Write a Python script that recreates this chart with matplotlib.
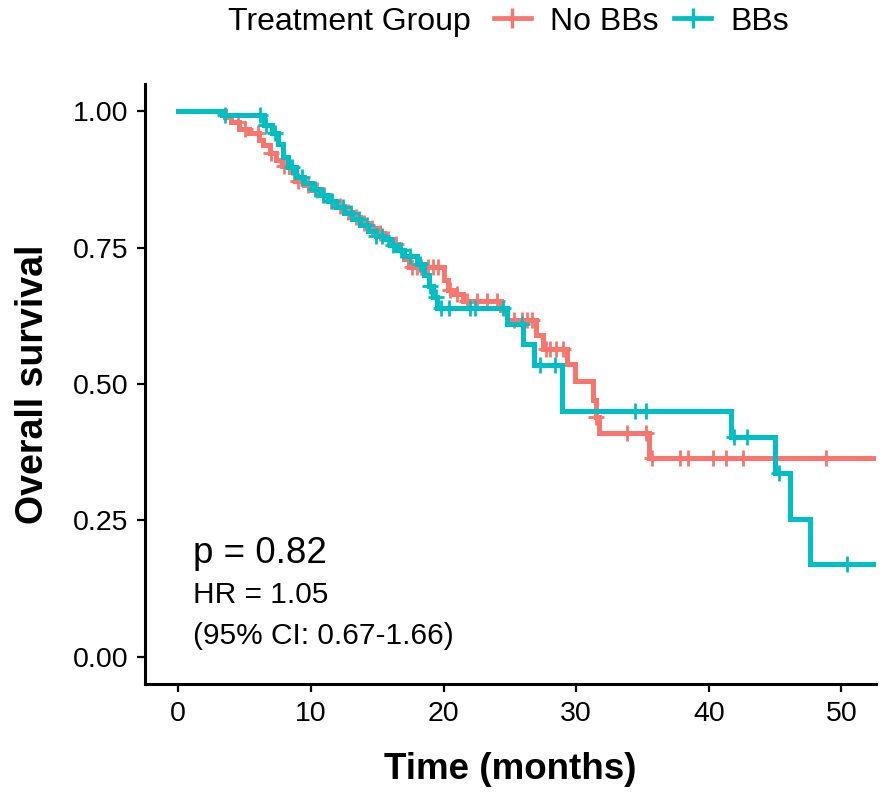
import numpy as np
import matplotlib
matplotlib.use("Agg")
import matplotlib.pyplot as plt
from matplotlib.lines import Line2D

plt.rcParams['font.family'] = ['Liberation Sans', 'DejaVu Sans']

# Kaplan-Meier steps (time in months, survival after step)
nobb_time = [0, 3.5, 4.0, 4.6, 5.3, 6.1, 6.4, 6.9, 7.4, 7.8, 8.4, 8.8, 9.5, 10.1, 10.7,
             11.3, 11.9, 12.5, 13.1, 13.7, 14.3, 14.9, 15.5, 16.1, 16.6, 17.0, 17.4,
             20.0, 20.3, 20.8, 21.5, 24.3, 24.8, 27.0, 27.5, 29.3, 29.9, 31.3, 31.5,
             31.7, 35.5, 55.0]
nobb_surv = [1.0, 0.99, 0.98, 0.968, 0.96, 0.947, 0.938, 0.923, 0.91, 0.90, 0.888, 0.873,
             0.865, 0.856, 0.846, 0.836, 0.826, 0.816, 0.806, 0.796, 0.786, 0.776, 0.766,
             0.756, 0.745, 0.730, 0.714, 0.69, 0.672, 0.665, 0.653, 0.635, 0.617, 0.59,
             0.565, 0.537, 0.506, 0.47, 0.44, 0.41, 0.365, 0.365]
nobb_cens = [4.5, 5.0, 6.0, 7.0, 8.0, 9.0, 9.8, 10.5, 11.0, 11.5, 12.2, 12.8, 13.4, 14.0,
             14.6, 15.2, 15.8, 16.4, 17.6, 18.0, 18.3, 18.8, 19.2, 19.6, 20.5, 21.0, 21.8,
             22.5, 23.3, 24.0, 25.3, 25.9, 26.3, 26.7, 27.7, 28.0, 28.5, 29.0, 31.5, 33.8,
             35.3, 35.7, 37.8, 38.4, 40.3, 41.3, 42.6, 48.8]

bb_time = [0, 3.3, 6.5, 7.1, 7.5, 7.9, 8.3, 8.9, 9.5, 10.1, 10.7, 11.3, 11.9, 12.5, 13.1,
           13.7, 14.3, 14.9, 15.5, 16.0, 16.5, 17.0, 18.0, 18.5, 18.9, 19.2, 19.5, 24.8,
           26.0, 26.8, 28.9, 41.7, 45.0, 46.1, 47.6, 55.0]
bb_surv = [1.0, 0.993, 0.975, 0.96, 0.94, 0.916, 0.897, 0.88, 0.868, 0.858, 0.847, 0.836,
           0.825, 0.814, 0.803, 0.792, 0.781, 0.772, 0.765, 0.755, 0.745, 0.735, 0.72, 0.70,
           0.68, 0.66, 0.64, 0.61, 0.574, 0.534, 0.451, 0.402, 0.336, 0.253, 0.17, 0.17]
bb_cens = [3.5, 6.2, 6.6, 7.3, 8.6, 9.3, 10.3, 10.9, 11.6, 12.4, 13.0, 13.6, 14.2, 14.9,
           15.4, 16.2, 16.8, 17.5, 18.2, 19.0, 19.4, 19.8, 20.4, 22.0, 22.4, 24.5, 25.9,
           27.3, 28.4, 34.4, 35.3, 41.9, 42.9, 45.3, 50.4]

groups = ["No BBs", "BBs"]
colors = ["#F8766D", "#00BFC4"]

p_text = "p = 0.82"
hr_text = "HR = 1.05"
ci_text = "(95% CI: 0.67-1.66)"


def surv_at(times, surv, t):
    idx = np.searchsorted(times, t, side='right') - 1
    return np.asarray(surv)[idx]


fig = plt.figure(figsize=(8.86, 7.99), dpi=100)
ax = fig.add_axes([0.1637, 0.1439, 0.825, 0.751])

for t, s, c, col in [(nobb_time, nobb_surv, nobb_cens, colors[0]),
                     (bb_time, bb_surv, bb_cens, colors[1])]:
    ax.step(t, s, where='post', color=col, lw=3.6, solid_joinstyle='miter')
    ax.plot(c, surv_at(t, s, c), ls='none', marker='+', ms=12, mew=2.0, color=col)

ax.set_xlim(-2.5, 52.6)
ax.set_ylim(-0.05, 1.05)
ax.set_xticks([0, 10, 20, 30, 40, 50])
ax.set_yticks([0, 0.25, 0.5, 0.75, 1.0])
ax.set_yticklabels(["0.00", "0.25", "0.50", "0.75", "1.00"])
ax.tick_params(labelsize=20.5, length=6, width=1.6, color='black', pad=6)

for side in ['top', 'right']:
    ax.spines[side].set_visible(False)
for side in ['left', 'bottom']:
    ax.spines[side].set_linewidth(2.2)

ax.set_xlabel("Time (months)", fontsize=26.5, fontweight='bold', labelpad=18)
ax.set_ylabel("Overall survival", fontsize=27, fontweight='bold', labelpad=16)

ax.text(1.1, 0.172, p_text, fontsize=26.5, va='baseline')
ax.text(1.1, 0.099, hr_text, fontsize=21.5, va='baseline')
ax.text(1.1, 0.024, ci_text, fontsize=21.5, va='baseline')

# legend on top
fig.text(228 / 886, 0.973, "Treatment Group", fontsize=23, va='center')
handles = [Line2D([], [], color=col, lw=3.4, marker='+', ms=14, mew=2.4) for col in colors]
fig.legend(handles, groups, ncol=2, loc='center left', bbox_to_anchor=(494 / 886, 0.973),
           frameon=False, fontsize=23, handlelength=1.15, handletextpad=0.6,
           columnspacing=0.5, borderpad=0, borderaxespad=0)

fig.savefig("out.png", dpi=100)
